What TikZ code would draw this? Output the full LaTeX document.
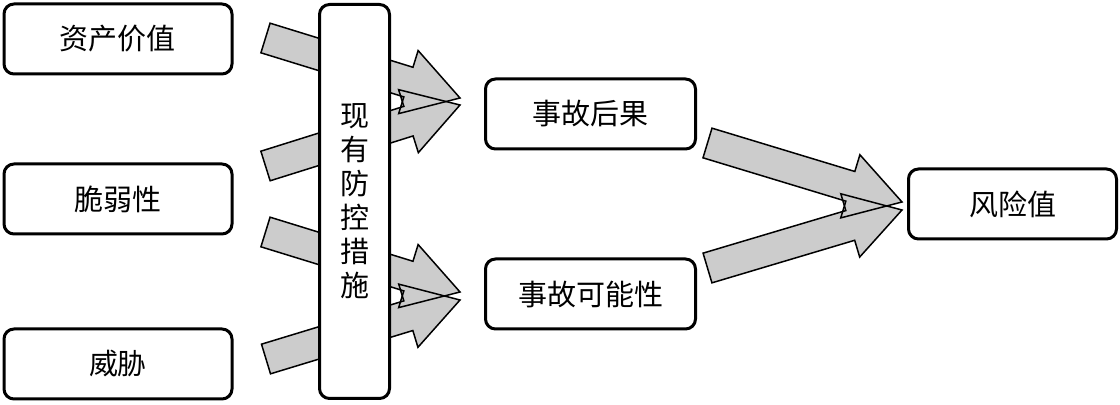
\documentclass[tikz,border=0pt]{standalone}
\usepackage{fontspec}
\setmainfont{Noto Sans CJK SC}
\usetikzlibrary{calc}
\definecolor{arrowgray}{RGB}{204,204,204}
\newcommand\blockarrow[1]{($(t#1)!7.75pt!90:(h#1)$) -- ($(n#1)!7.75pt!90:(h#1)$) -- ($(n#1)!16.5pt!90:(h#1)$) -- (h#1) -- ($(n#1)!16.5pt!-90:(h#1)$) -- ($(n#1)!7.75pt!-90:(h#1)$) -- ($(t#1)!7.75pt!-90:(h#1)$) -- cycle}
\begin{document}
\begin{tikzpicture}[x=0.5pt,y=-0.5pt,
  box/.style={draw=black,fill=white,line width=1.5pt,rounded corners=5pt,inner sep=0pt,
    minimum width=114pt,minimum height=35pt,font=\fontsize{14.5}{17}\selectfont},
  midbox/.style={box,minimum width=35pt,minimum height=197pt,align=center},
  arrowfillstyle/.style={fill=arrowgray},
  arrowlinestyle/.style={draw=black,line width=0.75pt,line join=miter}]
\useasboundingbox (0,0) rectangle (1120,405);
% arrow end points
\coordinate (t1) at (265.5,38);  \coordinate (h1) at (460,98);
\coordinate (t2) at (265.5,166); \coordinate (h2) at (460,105);
\coordinate (t3) at (265.5,232); \coordinate (h3) at (460,292);
\coordinate (t4) at (266,359);   \coordinate (h4) at (460,300);
\coordinate (t5) at (707.5,143); \coordinate (h5) at (902,202);
\coordinate (t6) at (707.5,268); \coordinate (h6) at (902,210);
\foreach \i in {1,...,6}{\coordinate (n\i) at ($(h\i)!27pt!(t\i)$);}
% arrows: fills then outlines
\foreach \i in {1,...,6}{\fill[arrowfillstyle] \blockarrow{\i};}
\foreach \i in {1,...,6}{\draw[arrowlinestyle] \blockarrow{\i};}
% nodes
\node[box] (asset) at (118,39) {资产价值};
\node[box] (vuln) at (118,199) {脆弱性};
\node[box] (threat) at (118,364) {威胁};
\node[midbox] (ctrl) at (354.5,201.5) {现\\有\\防\\控\\措\\施};
\node[box,minimum width=105pt] (cons) at (590.5,114) {事故后果};
\node[box,minimum width=105pt] (prob) at (590.5,294) {事故可能性};
\node[box,minimum width=104pt] (risk) at (1012.5,204) {风险值};
\end{tikzpicture}
\end{document}
